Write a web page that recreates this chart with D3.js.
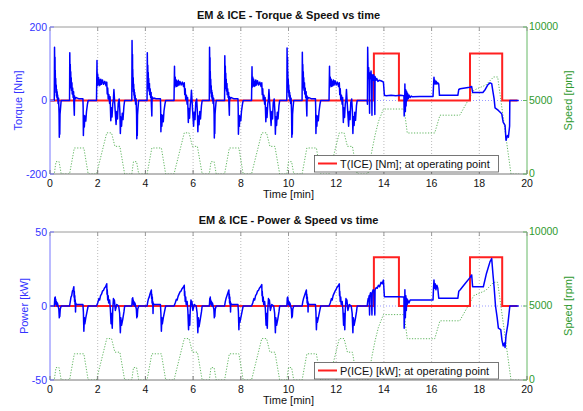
<!DOCTYPE html>
<html><head><meta charset="utf-8">
<script src="https://cdn.jsdelivr.net/npm/d3@7"></script>
<style>
body{margin:0;background:#fff}
text{font-family:"Liberation Sans",Arial,Helvetica,sans-serif}
</style>
</head><body>
<svg id="c" width="583" height="411"></svg>
<script>
// ---------- DATA ----------
const xTickValues = [0,2,4,6,8,10,12,14,16,18,20];
const torqueTicks = [-200,0,200];
const powerTicks = [-50,0,50];
const speedTicks = [0,5000,10000];

const titles = ["EM & ICE - Torque & Speed vs time","EM & ICE - Power & Speed vs time"];
const yLabels = ["Torque [Nm]","Power [kW]"];
const speedLabel = "Speed [rpm]";
const xLabel = "Time [min]";
const legendLabels = ["T(ICE) [Nm]; at operating point","P(ICE) [kW]; at operating point"];

// speed [min, rpm]
const speed = [
[0,0],[0.18,0],[0.25,840],[0.38,840],[0.47,0],[0.82,0],[1.02,1770],[1.42,1770],[1.6,0],[1.95,0],[2.38,2800],[2.58,2800],[2.72,1880],[2.93,1880],[3.13,0],[3.25,0],
[3.43,0],[3.5,840],[3.63,840],[3.72,0],[4.07,0],[4.27,1770],[4.67,1770],[4.85,0],[5.2,0],[5.63,2800],[5.83,2800],[5.97,1880],[6.18,1880],[6.38,0],[6.5,0],
[6.68,0],[6.75,840],[6.88,840],[6.97,0],[7.32,0],[7.52,1770],[7.92,1770],[8.1,0],[8.45,0],[8.88,2800],[9.08,2800],[9.22,1880],[9.43,1880],[9.63,0],[9.75,0],
[9.93,0],[10.0,840],[10.13,840],[10.22,0],[10.57,0],[10.77,1770],[11.17,1770],[11.35,0],[11.7,0],[12.13,2800],[12.33,2800],[12.47,1880],[12.68,1880],[12.88,0],
[13.33,0],[13.49,1520],[13.63,2650],[13.77,3560],[13.98,4420],[14.85,4420],[14.98,2790],[16.13,2790],[16.35,4000],[17.18,4000],[17.77,5700],[18.27,6050],[18.6,6600],[18.77,6600],[19.33,0],[19.67,0]
];

// EM torque [min, Nm]
const emTorque = [
[0,0],[0.18,0],[0.19,145],[0.2,85],[0.21,118],[0.215,55],[0.22,82],[0.23,38],[0.24,60],[0.25,22],[0.26,42],[0.27,12],[0.28,30],[0.29,8],[0.3,24],[0.31,2],[0.32,15],[0.34,-8],[0.36,6],[0.38,-35],[0.39,-100],[0.4,-55],[0.41,-92],[0.42,-38],[0.44,-22],[0.46,-6],[0.47,0],
[0.82,0],[0.83,130],[0.84,68],[0.85,98],[0.86,48],[0.87,78],[0.88,34],[0.89,62],[0.9,28],[0.92,48],[0.93,18],[0.95,34],[0.97,8],[0.99,24],[1.0,-6],[1.02,-40],[1.03,12],[1.05,4],[1.1,8],[1.2,5],[1.38,5],[1.39,-20],[1.4,-95],[1.42,-40],[1.44,-72],[1.46,-42],[1.5,-56],[1.53,-30],[1.57,-10],[1.6,0],
[1.95,0],[1.97,109],[1.98,40],[2.0,72],[2.02,44],[2.04,62],[2.06,40],[2.08,56],[2.1,42],[2.13,58],[2.16,44],[2.2,56],[2.25,44],[2.3,52],[2.35,40],[2.38,50],[2.4,18],[2.42,34],[2.44,4],[2.47,16],[2.5,-8],[2.52,10],[2.55,-55],[2.57,-20],[2.6,-45],[2.63,-10],[2.66,5],[2.68,30],[2.7,8],[2.73,-25],[2.77,-65],[2.8,-30],[2.83,-50],[2.86,-8],[2.9,4],[2.93,-30],[2.95,-90],[2.97,-45],[3.0,-70],[3.03,-35],[3.06,-52],[3.1,-15],[3.13,0],
[3.25,0],[3.43,0],[3.44,163],[3.45,90],[3.46,125],[3.465,58],[3.47,85],[3.48,40],[3.49,62],[3.5,24],[3.51,44],[3.52,14],[3.53,30],[3.54,6],[3.55,22],[3.56,0],[3.57,14],[3.59,-10],[3.61,5],[3.63,-38],[3.64,-104],[3.65,-58],[3.66,-95],[3.67,-40],[3.69,-20],[3.71,-5],[3.72,0],
[4.07,0],[4.08,130],[4.09,66],[4.1,96],[4.11,46],[4.12,76],[4.13,32],[4.14,60],[4.15,26],[4.17,46],[4.18,16],[4.2,32],[4.22,8],[4.24,22],[4.25,-8],[4.27,-42],[4.28,10],[4.3,4],[4.35,7],[4.45,5],[4.63,5],[4.64,-22],[4.65,-85],[4.67,-38],[4.69,-70],[4.71,-40],[4.75,-58],[4.78,-28],[4.82,-10],[4.85,0],
[5.2,0],[5.22,93],[5.23,36],[5.25,64],[5.27,40],[5.29,56],[5.31,38],[5.33,52],[5.35,40],[5.38,55],[5.41,42],[5.45,52],[5.5,42],[5.55,50],[5.6,38],[5.63,48],[5.65,16],[5.67,32],[5.69,2],[5.72,14],[5.75,-10],[5.77,8],[5.8,-60],[5.82,-22],[5.85,-48],[5.88,-12],[5.91,4],[5.93,28],[5.95,6],[5.98,-28],[6.02,-70],[6.05,-32],[6.08,-52],[6.11,-6],[6.15,4],[6.18,-32],[6.2,-85],[6.22,-42],[6.25,-66],[6.28,-30],[6.31,-50],[6.35,-14],[6.38,0],
[6.5,0],[6.68,0],[6.69,145],[6.7,86],[6.71,116],[6.715,54],[6.72,80],[6.73,36],[6.74,58],[6.75,20],[6.76,40],[6.77,10],[6.78,28],[6.79,6],[6.8,22],[6.81,0],[6.82,14],[6.84,-8],[6.86,6],[6.88,-36],[6.89,-102],[6.9,-56],[6.91,-90],[6.92,-38],[6.94,-20],[6.96,-6],[6.97,0],
[7.32,0],[7.33,122],[7.34,64],[7.35,94],[7.36,46],[7.37,74],[7.38,32],[7.39,58],[7.4,26],[7.42,46],[7.43,16],[7.45,32],[7.47,8],[7.49,22],[7.5,-6],[7.52,-40],[7.53,10],[7.55,4],[7.6,8],[7.7,5],[7.88,5],[7.89,-20],[7.9,-92],[7.92,-40],[7.94,-70],[7.96,-42],[8.0,-55],[8.03,-28],[8.07,-10],[8.1,0],
[8.45,0],[8.47,92],[8.48,36],[8.5,64],[8.52,40],[8.54,58],[8.56,38],[8.58,52],[8.6,40],[8.63,56],[8.66,42],[8.7,54],[8.75,42],[8.8,50],[8.85,38],[8.88,48],[8.9,16],[8.92,32],[8.94,2],[8.97,14],[9.0,-10],[9.02,8],[9.05,-58],[9.07,-20],[9.1,-46],[9.13,-10],[9.16,4],[9.18,30],[9.2,6],[9.23,-26],[9.27,-68],[9.3,-30],[9.33,-50],[9.36,-6],[9.4,4],[9.43,-30],[9.45,-92],[9.47,-44],[9.5,-68],[9.53,-32],[9.56,-50],[9.6,-14],[9.63,0],
[9.75,0],[9.93,0],[9.94,143],[9.95,84],[9.96,116],[9.965,54],[9.97,80],[9.98,36],[9.99,58],[10.0,22],[10.01,42],[10.02,12],[10.03,28],[10.04,8],[10.05,22],[10.06,0],[10.07,14],[10.09,-8],[10.11,6],[10.13,-36],[10.14,-100],[10.15,-56],[10.16,-92],[10.17,-38],[10.19,-20],[10.21,-6],[10.22,0],
[10.57,0],[10.58,131],[10.59,68],[10.6,98],[10.61,48],[10.62,78],[10.63,34],[10.64,62],[10.65,28],[10.67,48],[10.68,18],[10.7,34],[10.72,8],[10.74,24],[10.75,-6],[10.77,-42],[10.78,12],[10.8,4],[10.85,8],[10.95,5],[11.13,5],[11.14,-20],[11.15,-90],[11.17,-40],[11.19,-70],[11.21,-42],[11.25,-55],[11.28,-30],[11.32,-10],[11.35,0],
[11.7,0],[11.72,93],[11.73,36],[11.75,64],[11.77,40],[11.79,58],[11.81,38],[11.83,52],[11.85,40],[11.88,56],[11.91,42],[11.95,54],[12.0,42],[12.05,50],[12.1,38],[12.13,48],[12.15,16],[12.17,32],[12.19,2],[12.22,14],[12.25,-10],[12.27,8],[12.3,-60],[12.32,-20],[12.35,-46],[12.38,-10],[12.41,4],[12.43,30],[12.45,6],[12.48,-26],[12.52,-70],[12.55,-30],[12.58,-52],[12.61,-6],[12.65,4],[12.68,-30],[12.7,-90],[12.72,-44],[12.75,-68],[12.78,-32],[12.81,-54],[12.85,-14],[12.88,0],
[13.3,0],[13.31,-10],[13.32,145],[13.34,60],[13.36,90],[13.38,65],[13.4,-35],[13.41,75],[13.43,60],[13.46,80],[13.48,55],[13.5,-40],[13.51,70],[13.54,55],[13.57,70],[13.6,50],[13.62,-38],[13.63,65],[13.66,55],[13.7,60],[13.75,52],[13.8,55],[13.9,53],[13.98,50],[14.02,14],[14.1,13],[14.3,14],[14.5,13],[14.7,14],[14.84,13],[14.85,-42],[14.87,-20],[14.88,45],[14.9,-30],[14.91,30],[14.93,-15],[14.95,25],[14.97,0],[14.99,20],[15.02,5],[15.05,15],[15.1,8],[15.15,12],[15.2,10],[15.5,11],[15.8,11],[16.06,11],[16.08,40],[16.1,63],[16.12,45],[16.14,55],[16.17,45],[16.2,52],[16.23,45],[16.26,48],[16.3,45],[16.33,14],[16.5,14],[16.8,14],[17.1,14],[17.14,30],[17.2,32],[17.4,34],[17.6,36],[17.68,38],[17.72,22],[17.9,22],[18.15,22],[18.25,30],[18.35,42],[18.45,48],[18.52,46],[18.57,25],[18.62,5],[18.66,-20],[18.8,-27],[18.94,-36],[19.0,-59],[19.08,-68],[19.12,-108],[19.18,-95],[19.22,-100],[19.27,-70],[19.28,0],[19.65,0]
];

// EM power [min, kW]
const emPower = [
[0,0],[0.18,0],[0.19,2],[0.2,5.5],[0.21,2.5],[0.22,6],[0.23,2],[0.24,4.5],[0.25,1],[0.27,3],[0.29,0],[0.31,2],[0.34,0],[0.37,-2],[0.39,-8],[0.4,-4],[0.41,-7],[0.43,-2],[0.47,0],
[0.82,0],[0.85,3],[0.88,6],[0.91,7],[0.94,10],[0.97,11],[1.0,13],[1.01,6],[1.02,10],[1.03,3],[1.04,7],[1.05,1],[1.06,4],[1.07,-4],[1.08,2],[1.1,1],[1.2,1],[1.38,1],[1.4,-4],[1.42,-17],[1.44,-8],[1.46,-12],[1.5,-8],[1.55,-4],[1.6,0],
[1.95,0],[2.0,2],[2.05,5],[2.08,4],[2.12,7],[2.16,8],[2.2,10],[2.24,10.5],[2.28,12],[2.33,13],[2.38,15],[2.39,8],[2.4,11],[2.42,4],[2.44,7],[2.46,2],[2.5,4],[2.53,-2],[2.56,-12],[2.58,-5],[2.61,-15],[2.63,-3],[2.66,5],[2.68,2],[2.7,4],[2.74,-3],[2.8,1],[2.88,0],[2.92,-5],[2.95,-18],[2.97,-8],[3.0,-13],[3.05,-9],[3.1,-4],[3.13,0],
[3.25,0],[3.43,0],[3.44,2],[3.45,5],[3.46,2.5],[3.47,5.6],[3.48,2],[3.49,4],[3.5,1],[3.52,3],[3.54,0],[3.56,2],[3.59,0],[3.62,-2],[3.64,-8],[3.65,-4],[3.66,-7],[3.68,-2],[3.72,0],
[4.07,0],[4.1,3],[4.13,5],[4.16,6],[4.19,8],[4.22,9.5],[4.25,10.8],[4.26,5],[4.27,8],[4.28,2],[4.29,6],[4.3,1],[4.31,3],[4.32,-5],[4.33,2],[4.35,1],[4.45,1],[4.63,1],[4.65,-5],[4.67,-17],[4.69,-8],[4.71,-12],[4.75,-8],[4.8,-4],[4.85,0],
[5.2,0],[5.25,2],[5.3,4.5],[5.33,4],[5.37,6.5],[5.41,8],[5.45,9.5],[5.49,10],[5.53,11.5],[5.58,12.5],[5.63,14],[5.64,7],[5.65,10],[5.67,3],[5.69,6],[5.71,1],[5.75,3],[5.78,-3],[5.81,-16],[5.83,-6],[5.86,-13],[5.88,-3],[5.91,4],[5.93,1],[5.95,3],[5.99,-3],[6.05,1],[6.13,0],[6.17,-5],[6.2,-18],[6.22,-8],[6.25,-14],[6.3,-9],[6.35,-4],[6.38,0],
[6.5,0],[6.68,0],[6.69,2],[6.7,5],[6.71,2.5],[6.72,6],[6.73,2],[6.74,4],[6.75,1],[6.77,3],[6.79,0],[6.81,2],[6.84,0],[6.87,-2],[6.89,-8],[6.9,-4],[6.91,-7],[6.93,-2],[6.97,0],
[7.32,0],[7.35,3],[7.38,5],[7.41,6.5],[7.44,8],[7.47,9.5],[7.5,10.8],[7.51,5],[7.52,8],[7.53,2],[7.54,6],[7.55,1],[7.56,3],[7.57,-4],[7.58,2],[7.6,1],[7.7,1],[7.88,1],[7.9,-4],[7.92,-16],[7.94,-8],[7.96,-11],[8.0,-8],[8.05,-4],[8.1,0],
[8.45,0],[8.5,2],[8.55,5],[8.58,4],[8.62,7],[8.66,8],[8.7,10],[8.74,10.5],[8.78,12],[8.83,13],[8.88,14.5],[8.89,7],[8.9,10],[8.92,3],[8.94,6],[8.96,1],[9.0,3],[9.03,-2],[9.06,-13],[9.08,-5],[9.11,-15],[9.13,-3],[9.16,5],[9.18,2],[9.2,4],[9.24,-3],[9.3,1],[9.38,0],[9.42,-5],[9.45,-18],[9.47,-8],[9.5,-13],[9.55,-9],[9.6,-4],[9.63,0],
[9.75,0],[9.93,0],[9.94,2],[9.95,5.5],[9.96,2.5],[9.97,6],[9.98,2],[9.99,4],[10.0,1],[10.02,3],[10.04,0],[10.06,2],[10.09,0],[10.12,-2],[10.14,-8],[10.15,-4],[10.16,-7],[10.18,-2],[10.22,0],
[10.57,0],[10.6,3],[10.63,5],[10.66,6.5],[10.69,8],[10.72,9.5],[10.75,10.8],[10.76,5],[10.77,8],[10.78,2],[10.79,6],[10.8,1],[10.81,3],[10.82,-4],[10.83,2],[10.85,1],[10.95,1],[11.13,1],[11.15,-4],[11.17,-16],[11.19,-8],[11.21,-11],[11.25,-8],[11.3,-4],[11.35,0],
[11.7,0],[11.75,2],[11.8,5],[11.83,4],[11.87,7],[11.91,8.5],[11.95,10],[11.99,11],[12.03,12.5],[12.08,13.5],[12.13,15],[12.14,7],[12.15,10],[12.17,3],[12.19,6],[12.21,1],[12.25,3],[12.28,-2],[12.31,-13],[12.33,-5],[12.36,-16],[12.38,-3],[12.41,5],[12.43,2],[12.45,4],[12.49,-3],[12.55,1],[12.63,0],[12.67,-5],[12.7,-18],[12.72,-8],[12.75,-13],[12.8,-9],[12.85,-4],[12.88,0],
[13.3,0],[13.32,3],[13.34,5],[13.36,4],[13.38,7],[13.4,-6],[13.41,7],[13.44,9],[13.47,8],[13.5,-6],[13.51,9],[13.55,11],[13.58,10],[13.62,-6],[13.63,11],[13.68,12.5],[13.72,12],[13.77,14],[13.82,13],[13.88,16],[13.93,15],[13.98,17.5],[14.02,6.3],[14.3,6.3],[14.6,6.2],[14.84,6],[14.85,-15],[14.87,-5],[14.88,11],[14.9,-8],[14.92,7],[14.94,-3],[14.96,5],[14.98,1],[15.0,4],[15.05,2],[15.1,4],[15.2,4],[15.6,4],[16.06,4],[16.08,12],[16.1,17.6],[16.12,12],[16.15,15],[16.18,11],[16.22,14],[16.26,12],[16.3,5.2],[16.6,5.2],[17.1,5.2],[17.14,10],[17.2,11],[17.4,15],[17.6,19],[17.68,21],[17.72,13],[17.95,13],[18.17,13],[18.3,22],[18.45,30],[18.52,32],[18.57,22],[18.62,13],[18.68,0],[18.75,-8],[18.8,-15],[18.9,-16],[18.95,-23],[19.0,-27],[19.05,-25],[19.08,-28],[19.12,-20],[19.2,-12],[19.28,0],[19.65,0]
];

// ICE at operating point
const iceTorque = [[0,0],[13.58,0],[13.58,128],[14.63,128],[14.63,0],[17.61,0],[17.61,128],[18.96,128],[18.96,0],[19.6,0]];
const icePower  = [[0,0],[13.58,0],[13.58,33],[14.63,33],[14.63,0],[17.61,0],[17.61,33],[18.96,33],[18.96,0],[19.6,0]];

// ---------- DRAW ----------
const svg = d3.select("#c");
const BLUE = "#0000ff", BLUE_T = "#3333ff", GREEN_T = "#2e9a2e", RED = "#ff2020";
const x = d3.scaleLinear().domain([0,20]).range([50,527]);

function panel(p){
  const yL = d3.scaleLinear().domain(p.lDomain).range([p.bottom,p.top]);
  const yR = d3.scaleLinear().domain([0,10000]).range([p.bottom,p.top]);
  const g = svg.append("g");
  const cid = "clip"+p.idx;
  svg.append("defs").append("clipPath").attr("id",cid).append("rect")
    .attr("x",50).attr("y",p.top).attr("width",477).attr("height",p.bottom-p.top);

  // vertical grid
  g.selectAll(".vg").data(xTickValues.slice(1,-1)).join("line")
    .attr("x1",d=>x(d)).attr("x2",d=>x(d)).attr("y1",p.top).attr("y2",p.bottom)
    .attr("stroke","#aaa").attr("stroke-width",0.8).attr("stroke-dasharray","1,2");
  // horizontal grid at 0 (left axis)
  g.append("line").attr("x1",50).attr("x2",527).attr("y1",yL(0)).attr("y2",yL(0))
    .attr("stroke","#8080ff").attr("stroke-width",0.8).attr("stroke-dasharray","1,2");

  const plot = g.append("g").attr("clip-path",`url(#${cid})`);
  const lineR = d3.line().x(d=>x(d[0])).y(d=>yR(d[1]));
  const lineL = d3.line().x(d=>x(d[0])).y(d=>yL(d[1]));
  plot.append("path").datum(speed).attr("d",lineR).attr("fill","none")
    .attr("stroke","#4fae4f").attr("stroke-width",0.9).attr("stroke-dasharray","1.2,1.6");
  plot.append("path").datum(p.red).attr("d",lineL).attr("fill","none")
    .attr("stroke",RED).attr("stroke-width",2).attr("stroke-linejoin","miter");
  plot.append("path").datum(p.blue).attr("d",lineL).attr("fill","none")
    .attr("stroke",BLUE).attr("stroke-width",1.5).attr("stroke-linejoin","round");

  // spines
  g.append("line").attr("x1",50).attr("x2",527).attr("y1",p.top).attr("y2",p.top).attr("stroke","#9a9a9a");
  g.append("line").attr("x1",50).attr("x2",527).attr("y1",p.bottom).attr("y2",p.bottom).attr("stroke","#777");
  g.append("line").attr("x1",50).attr("x2",50).attr("y1",p.top).attr("y2",p.bottom).attr("stroke","#7777ff");
  g.append("line").attr("x1",527).attr("x2",527).attr("y1",p.top).attr("y2",p.bottom).attr("stroke","#66b866");

  // x ticks (inward, top and bottom)
  g.selectAll(".xt").data(xTickValues).join("line")
    .attr("x1",d=>x(d)).attr("x2",d=>x(d)).attr("y1",p.bottom).attr("y2",p.bottom-4).attr("stroke","#777");
  g.selectAll(".xt2").data(xTickValues).join("line")
    .attr("x1",d=>x(d)).attr("x2",d=>x(d)).attr("y1",p.top).attr("y2",p.top+4).attr("stroke","#9a9a9a");
  g.selectAll(".xl").data(xTickValues).join("text")
    .attr("x",d=>x(d)).attr("y",p.bottom+13).attr("text-anchor","middle")
    .attr("font-size",10.5).attr("fill","#111").text(d=>d);

  // left ticks
  g.selectAll(".lt").data(p.lTicks).join("line")
    .attr("x1",50).attr("x2",54).attr("y1",d=>yL(d)).attr("y2",d=>yL(d)).attr("stroke","#7777ff");
  g.selectAll(".ll").data(p.lTicks).join("text")
    .attr("x",47).attr("y",d=>yL(d)).attr("dy","0.36em").attr("text-anchor","end")
    .attr("font-size",10.5).attr("fill",BLUE_T).text(d=>d);
  // right ticks
  g.selectAll(".rt").data(speedTicks).join("line")
    .attr("x1",523).attr("x2",527).attr("y1",d=>yR(d)).attr("y2",d=>yR(d)).attr("stroke","#66b866");
  g.selectAll(".rl").data(speedTicks).join("text")
    .attr("x",529).attr("y",d=>yR(d)).attr("dy","0.33em").attr("text-anchor","start")
    .attr("font-size",10.5).attr("fill",GREEN_T).text(d=>d);

  // labels
  g.append("text").attr("x",288.5).attr("y",p.top-8.5).attr("text-anchor","middle")
    .attr("font-size",11).attr("font-weight","bold").attr("fill","#111").text(p.title);
  g.append("text").attr("x",288.5).attr("y",p.bottom+24).attr("text-anchor","middle")
    .attr("font-size",11).attr("fill","#111").text(xLabel);
  g.append("text").attr("transform",`translate(${p.ylx},${(p.top+p.bottom)/2}) rotate(-90)`)
    .attr("text-anchor","middle").attr("font-size",11).attr("fill",BLUE_T).text(p.ylabel);
  g.append("text").attr("transform",`translate(572,${(p.top+p.bottom)/2}) rotate(-90)`)
    .attr("text-anchor","middle").attr("font-size",11).attr("fill",GREEN_T).text(speedLabel);

  // legend
  const lg = g.append("g");
  lg.append("rect").attr("x",314.5).attr("y",p.legY+0.5).attr("width",184).attr("height",16.5)
    .attr("fill","#fff").attr("stroke","#555").attr("stroke-width",0.8);
  lg.append("line").attr("x1",318).attr("x2",337).attr("y1",p.legY+8.5).attr("y2",p.legY+8.5)
    .attr("stroke",RED).attr("stroke-width",2);
  lg.append("text").attr("x",340).attr("y",p.legY+12.5).attr("font-size",11).attr("fill","#111").text(p.legend);
}

panel({idx:0, top:27, bottom:174, lDomain:[-200,200], lTicks:torqueTicks, blue:emTorque, red:iceTorque,
  title:titles[0], ylabel:yLabels[0], ylx:22, legend:legendLabels[0], legY:155});
panel({idx:1, top:232, bottom:380, lDomain:[-50,50], lTicks:powerTicks, blue:emPower, red:icePower,
  title:titles[1], ylabel:yLabels[1], ylx:28, legend:legendLabels[1], legY:362});
</script>
</body></html>
